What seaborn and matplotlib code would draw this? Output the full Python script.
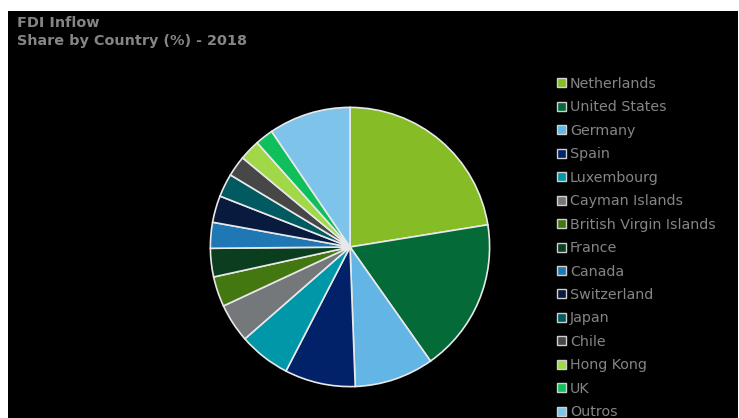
import matplotlib
matplotlib.use('Agg')
import matplotlib.pyplot as plt
import matplotlib.patches as mpatches
import seaborn as sns

# Data (share, %)
countries = ['Netherlands', 'United States', 'Germany', 'Spain', 'Luxembourg',
             'Cayman Islands', 'British Virgin Islands', 'France', 'Canada',
             'Switzerland', 'Japan', 'Chile', 'Hong Kong', 'UK', 'Outros']
shares = [22.5, 17.8, 9.2, 8.2, 6.0, 4.5, 3.5, 3.3, 3.0, 3.1, 2.7, 2.4, 2.4, 2.1, 9.5]
colors = ['#86bc25', '#046a38', '#62b5e5', '#012169', '#0097a9',
          '#75787b', '#43770f', '#0b3d1f', '#1f78b4', '#081a3e',
          '#005a60', '#474747', '#a0d848', '#0ebf5c', '#7ec3ea']

title_lines = ['FDI Inflow', 'Share by Country (%) - 2018']
text_grey = '#858585'


def main():
    sns.set_theme(style='dark')
    plt.rcParams['font.family'] = ['DejaVu Sans']
    palette = sns.color_palette(colors)

    fig = plt.figure(figsize=(7.39, 4.18), dpi=100, facecolor='white')

    # black panel (small white margin top/left like the reference)
    bg = fig.add_axes([8 / 739, 0, 730 / 739, 407 / 418])
    bg.set_facecolor('black')
    bg.set_xticks([])
    bg.set_yticks([])
    for s in bg.spines.values():
        s.set_visible(False)

    fig.text(17 / 739, 1 - 23 / 418, title_lines[0], color=text_grey,
             fontsize=10.4, fontweight='bold', va='center', ha='left')
    fig.text(17 / 739, 1 - 41 / 418, title_lines[1], color=text_grey,
             fontsize=10.4, fontweight='bold', va='center', ha='left')

    # pie
    ax = fig.add_axes([209 / 739, 30 / 418, 282 / 739, 282 / 418])
    ax.set_facecolor('none')
    ax.pie(shares, colors=palette, startangle=90, counterclock=False,
           wedgeprops={'edgecolor': '#e8e8e8', 'linewidth': 1.2})
    ax.set_xlim(-1.01, 1.01)
    ax.set_ylim(-1.01, 1.01)
    ax.set_aspect('equal')
    ax.axis('off')

    # legend
    handles = [mpatches.Patch(facecolor=c, edgecolor='#d0d0d0', linewidth=1.0)
               for c in palette]
    fig.legend(handles, countries, loc='upper left',
               bbox_to_anchor=(557 / 739, 1 - 77 / 418),
               frameon=False, fontsize=10.3, labelcolor=text_grey,
               handlelength=0.6, handleheight=0.6, handletextpad=0.3,
               labelspacing=0.66, borderaxespad=0, borderpad=0)

    fig.savefig('out.png', dpi=100, facecolor='white')
    plt.close(fig)


if __name__ == '__main__':
    main()
